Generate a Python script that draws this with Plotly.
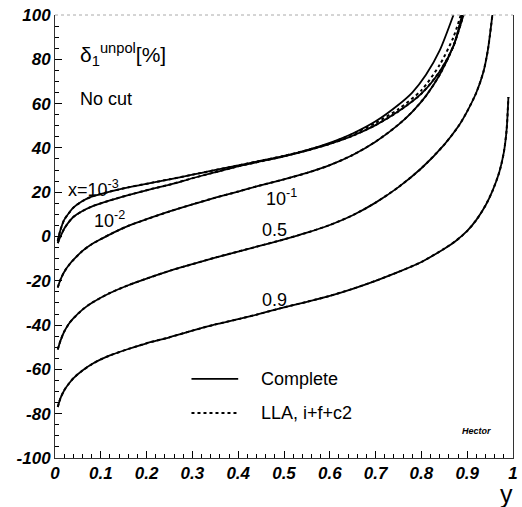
import plotly.graph_objects as go

# ---------------- data ----------------
y_1e3 = [0.006, 0.012, 0.02, 0.03, 0.04, 0.06, 0.08, 0.12, 0.16, 0.21, 0.25, 0.3, 0.34,
         0.4, 0.44, 0.5, 0.55, 0.6, 0.65, 0.7, 0.75, 0.78, 0.81, 0.84, 0.87]
d_1e3 = [-2, 3, 7.5, 10.5, 13, 16, 18, 20.3, 22.2, 24.2, 25.8, 27.9, 29.6,
         32.1, 33.8, 36.4, 39, 42.3, 46.5, 52, 59.5, 65, 73, 84, 100]

y_1e3_lla = [0.006, 0.012, 0.02, 0.03, 0.04, 0.06, 0.08, 0.12, 0.16, 0.21, 0.25, 0.3, 0.34,
             0.4, 0.44, 0.5, 0.55, 0.6, 0.65, 0.7, 0.75, 0.8, 0.84, 0.87, 0.886]
d_1e3_lla = [-2, 3, 7.5, 10.5, 13, 16, 18, 20.3, 22.2, 24.2, 25.8, 27.9, 29.6,
             32.1, 33.8, 36.4, 39, 42, 46.3, 51.3, 57.5, 66, 77.5, 90, 100]

y_1e2 = [0.006, 0.012, 0.02, 0.03, 0.04, 0.06, 0.08, 0.12, 0.16, 0.21, 0.25, 0.3, 0.34,
         0.4, 0.44, 0.5, 0.55, 0.6, 0.65, 0.7, 0.75, 0.8, 0.84, 0.87, 0.889]
d_1e2 = [-3, 0, 3.5, 6.5, 8.8, 11.5, 13.5, 16.3, 18.7, 21.4, 23.4, 26.3, 28.5,
         31.7, 33.5, 36.2, 38.8, 41.8, 45.5, 50.3, 56.5, 64.5, 74.5, 86, 100]
d_1e2_lla = [-3, 0, 3.5, 6.5, 8.8, 11.5, 13.5, 16.3, 18.7, 21.4, 23.4, 26.3, 28.5,
             31.7, 33.5, 36.2, 38.8, 41.8, 45.5, 50.3, 56.5, 64.5, 74.5, 86, 100]

y_1e1 = [0.006, 0.012, 0.02, 0.03, 0.04, 0.06, 0.08, 0.1, 0.13, 0.16, 0.2, 0.25, 0.3, 0.35,
         0.4, 0.44, 0.5, 0.55, 0.6, 0.65, 0.7, 0.75, 0.78, 0.81, 0.84, 0.87, 0.892]
d_1e1 = [-23, -19.5, -16, -13, -10.6, -6.5, -3.5, -1.2, 2, 4.8, 7.8, 11.3, 14.5, 17.5,
         20.3, 22.6, 25.8, 28.7, 32.2, 36.8, 42.8, 50.5, 56.3, 63.5, 73, 86, 100]

y_05 = [0.006, 0.012, 0.02, 0.03, 0.04, 0.06, 0.08, 0.12, 0.16, 0.2, 0.255, 0.3, 0.35, 0.4,
        0.44, 0.5, 0.55, 0.6, 0.65, 0.7, 0.75, 0.8, 0.85, 0.88, 0.9, 0.92, 0.935, 0.945, 0.955]
d_05 = [-51, -47, -43, -39.5, -37, -33, -30, -25.5, -22, -19, -15.2, -12.5, -9.5, -6.8,
        -4.6, -1.3, 1.7, 5.2, 9.6, 15.3, 22.3, 30.8, 41.5, 49.5, 56.5, 65, 74, 84, 100]

y_09 = [0.006, 0.012, 0.02, 0.03, 0.04, 0.06, 0.08, 0.1, 0.12, 0.16, 0.2, 0.25, 0.3, 0.35,
        0.4, 0.44, 0.5, 0.55, 0.6, 0.65, 0.7, 0.75, 0.8, 0.85, 0.875, 0.9, 0.92, 0.94, 0.955,
        0.97, 0.98, 0.986, 0.99]
d_09 = [-77, -73, -69.5, -66.5, -64, -60.5, -57.7, -55.5, -53.7, -50.8, -48.2, -45.5, -42.5,
        -39.7, -37.3, -35.3, -32, -29.5, -26.8, -23.6, -20, -16, -11.5, -5.5, -2, 2.5, 7.5,
        14, 20.5, 29, 38, 48, 63]

x_ticks = [0, 0.1, 0.2, 0.3, 0.4, 0.5, 0.6, 0.7, 0.8, 0.9, 1]
x_ticklabels = ["0", "0.1", "0.2", "0.3", "0.4", "0.5", "0.6", "0.7", "0.8", "0.9", "1"]
y_ticks = [-100, -80, -60, -40, -20, 0, 20, 40, 60, 80, 100]
y_ticklabels = ["-100", "-80", "-60", "-40", "-20", "0", "20", "40", "60", "80", "100"]

curve_labels = [("x=10<sup>-3</sup>", 0.024, 21.5), ("10<sup>-2</sup>", 0.080, 7.5),
                ("10<sup>-1</sup>", 0.456, 17.5), ("0.5", 0.448, 3.0), ("0.9", 0.448, -28.5)]
legend_names = ["Complete", "LLA, i+f+c2"]

# ---------------- figure ----------------
FONT = "Liberation Sans, Arial, Helvetica, sans-serif"
fig = go.Figure()

complete = [(y_1e3, d_1e3), (y_1e2, d_1e2), (y_1e1, d_1e1), (y_05, d_05), (y_09, d_09)]
lla = [(y_1e3_lla, d_1e3_lla), (y_1e2, d_1e2_lla), (y_1e1, d_1e1), (y_05, d_05), (y_09, d_09)]

for xs, ys in complete:
    fig.add_trace(go.Scatter(x=xs, y=ys, mode="lines", showlegend=False,
                             line=dict(color="black", width=1.8, shape="spline", smoothing=0.7)))
for xs, ys in lla:
    fig.add_trace(go.Scatter(x=xs, y=ys, mode="lines", showlegend=False,
                             line=dict(color="black", width=2, dash="dot", shape="spline", smoothing=0.7)))

tickfont = dict(family=FONT, size=17, color="black", weight="bold", style="italic")
fig.update_xaxes(range=[0, 1], tickvals=x_ticks, ticktext=x_ticklabels, ticks="inside",
                 ticklen=7, tickwidth=1, tickcolor="black", showline=True, linecolor="#333",
                 linewidth=1, mirror=False, showgrid=False, zeroline=False, tickfont=tickfont,
                 ticklabeloverflow="allow",
                 minor=dict(dtick=0.02, ticks="inside", ticklen=4, tickcolor="black"))
fig.update_yaxes(range=[-100, 100], tickvals=y_ticks, ticktext=y_ticklabels, ticks="inside",
                 ticklen=7, tickwidth=1, tickcolor="black", showline=True, linecolor="#333",
                 linewidth=1, mirror=True, showgrid=False, zeroline=False, tickfont=tickfont,
                 ticklabeloverflow="allow",
                 minor=dict(dtick=5, ticks="inside", ticklen=4, tickcolor="black"))

annots = []
for txt, xx, yy in curve_labels:
    annots.append(dict(x=xx, y=yy, xref="x", yref="y", text=txt, showarrow=False,
                       xanchor="left", yanchor="middle", font=dict(family=FONT, size=18, color="black")))
annots.append(dict(x=0.050, y=82, xref="x", yref="y", text="δ<sub>1</sub><sup>unpol</sup>[%]",
                   showarrow=False, xanchor="left", yanchor="middle",
                   font=dict(family=FONT, size=21, color="black")))
annots.append(dict(x=0.050, y=62, xref="x", yref="y", text="No cut", showarrow=False,
                   xanchor="left", yanchor="middle", font=dict(family=FONT, size=18, color="black")))
annots.append(dict(x=0.446, y=-64.3, xref="x", yref="y", text=legend_names[0], showarrow=False,
                   xanchor="left", yanchor="middle", font=dict(family=FONT, size=18, color="black")))
annots.append(dict(x=0.446, y=-79.7, xref="x", yref="y", text=legend_names[1], showarrow=False,
                   xanchor="left", yanchor="middle", font=dict(family=FONT, size=18, color="black")))
annots.append(dict(x=0.957, y=-87.8, xref="x", yref="y", text="Hector", showarrow=False,
                   xanchor="right", yanchor="middle",
                   font=dict(family=FONT, size=9, color="black", weight="bold", style="italic")))
annots.append(dict(x=0.985, y=-0.082, xref="paper", yref="paper", text="y", showarrow=False,
                   xanchor="center", yanchor="middle", font=dict(family=FONT, size=25, color="black")))

shapes = [
    dict(type="line", xref="x", yref="y", x0=0.298, x1=0.40, y0=-64.3, y1=-64.3,
         line=dict(color="black", width=1.8)),
    dict(type="line", xref="x", yref="y", x0=0.298, x1=0.40, y0=-79.7, y1=-79.7,
         line=dict(color="black", width=2, dash="dot")),
    dict(type="line", xref="paper", yref="paper", x0=0, x1=1, y0=1, y1=1,
         line=dict(color="#aaa", width=1, dash="dot")),
]

fig.update_layout(width=522, height=507, margin=dict(l=55, r=4, t=15, b=49),
                  plot_bgcolor="white", paper_bgcolor="white",
                  annotations=annots, shapes=shapes, showlegend=False)

fig.write_html("out.html")
